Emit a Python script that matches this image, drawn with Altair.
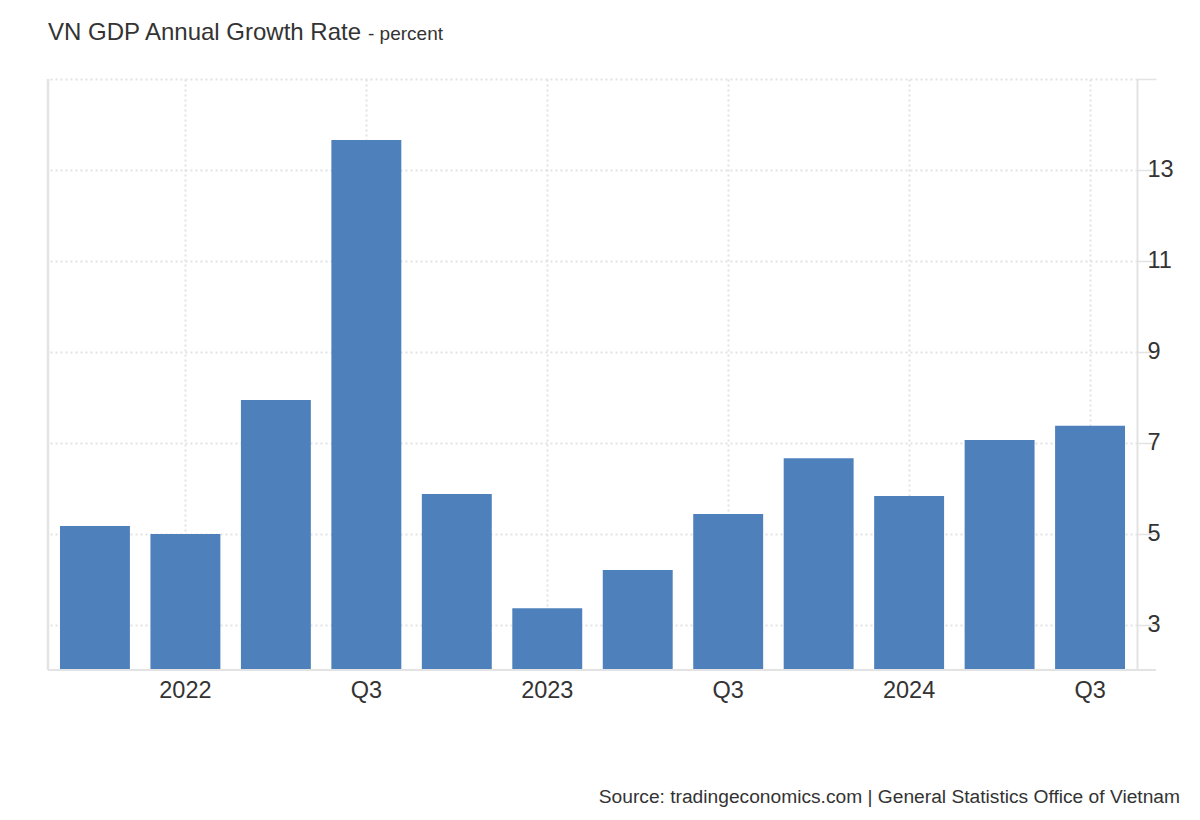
import altair as alt
import pandas as pd

quarters = ["2021 Q4", "2022 Q1", "2022 Q2", "2022 Q3", "2022 Q4", "2023 Q1",
            "2023 Q2", "2023 Q3", "2023 Q4", "2024 Q1", "2024 Q2", "2024 Q3"]
growth = [5.17, 4.99, 7.94, 13.66, 5.87, 3.36, 4.20, 5.43, 6.66, 5.83, 7.06, 7.37]
tick_quarters = ["2022 Q1", "2022 Q3", "2023 Q1", "2023 Q3", "2024 Q1", "2024 Q3"]
tick_labels = ["2022", "Q3", "2023", "Q3", "2024", "Q3"]
y_ticks = [3, 5, 7, 9, 11, 13, 15]

title_main = "VN GDP Annual Growth Rate"
title_unit = "- percent"
source_text = "Source: tradingeconomics.com | General Statistics Office of Vietnam"

W, H = 1089, 591
FONT = "Liberation Sans"
GRID = "#e2e2e2"
LINE = "#e3e3e3"

df = pd.DataFrame({"quarter": quarters, "growth": growth})
one = pd.DataFrame({"a": [0]})

label_expr = " : ".join(
    f"datum.value == '{q}' ? '{l}'" for q, l in zip(tick_quarters, tick_labels)
) + " : ''"

x_scale = alt.Scale(domain=quarters, paddingInner=0.227, paddingOuter=0.1325)
y_scale = alt.Scale(domain=[2, 15], nice=False, zero=False)

bars = alt.Chart(df).mark_bar(color="#4e80bc").encode(
    x=alt.X("quarter:N", scale=x_scale, sort=quarters,
            axis=alt.Axis(title=None, values=tick_quarters, labelExpr=label_expr,
                          domain=False, ticks=False, grid=True, gridDash=[2, 3],
                          gridColor=GRID, gridWidth=2, labelAngle=0,
                          labelFontSize=23.5, labelFont=FONT, labelColor="#333333",
                          labelPadding=8, bandPosition=0.5)),
    y=alt.Y("growth:Q", scale=y_scale,
            axis=alt.Axis(title=None, orient="right", values=y_ticks,
                          labelExpr="datum.value == 15 ? '' : datum.label",
                          domain=True, domainColor=LINE, domainWidth=2,
                          ticks=True, tickSize=19, tickColor=LINE, tickWidth=1.5,
                          grid=True, gridDash=[2, 3], gridColor=GRID, gridWidth=2,
                          labelFontSize=23.5, labelFont=FONT, labelColor="#333333",
                          labelPadding=-9, labelAlign="left", labelBaseline="middle")),
    y2=alt.datum(2),
)

left_line = alt.Chart(one).mark_rule(color=LINE, strokeWidth=2.5).encode(
    x=alt.value(0), y=alt.value(0), y2=alt.value(H))
bottom_line = alt.Chart(one).mark_rule(color=LINE, strokeWidth=2).encode(
    x=alt.value(0), x2=alt.value(W + 19), y=alt.value(H))

t1 = alt.Chart(one).mark_text(font=FONT, fontSize=24, color="#333333",
                              align="left", baseline="alphabetic").encode(
    x=alt.value(0), y=alt.value(-39), text=alt.value(title_main))
t2 = alt.Chart(one).mark_text(font=FONT, fontSize=19, color="#333333",
                              align="left", baseline="alphabetic").encode(
    x=alt.value(320), y=alt.value(-39), text=alt.value(title_unit))
src = alt.Chart(one).mark_text(font=FONT, fontSize=19.2, color="#333333",
                               align="right", baseline="alphabetic").encode(
    x=alt.value(1132), y=alt.value(724), text=alt.value(source_text))

chart = alt.layer(bars, left_line, bottom_line, t1, t2, src).properties(
    width=W, height=H,
    autosize=alt.AutoSizeParams(type="none"),
    padding={"left": 40, "top": 71, "right": 55, "bottom": 140},
).configure_view(stroke=None)

chart.save("out.html", embed_options={"renderer": "svg", "actions": False})
